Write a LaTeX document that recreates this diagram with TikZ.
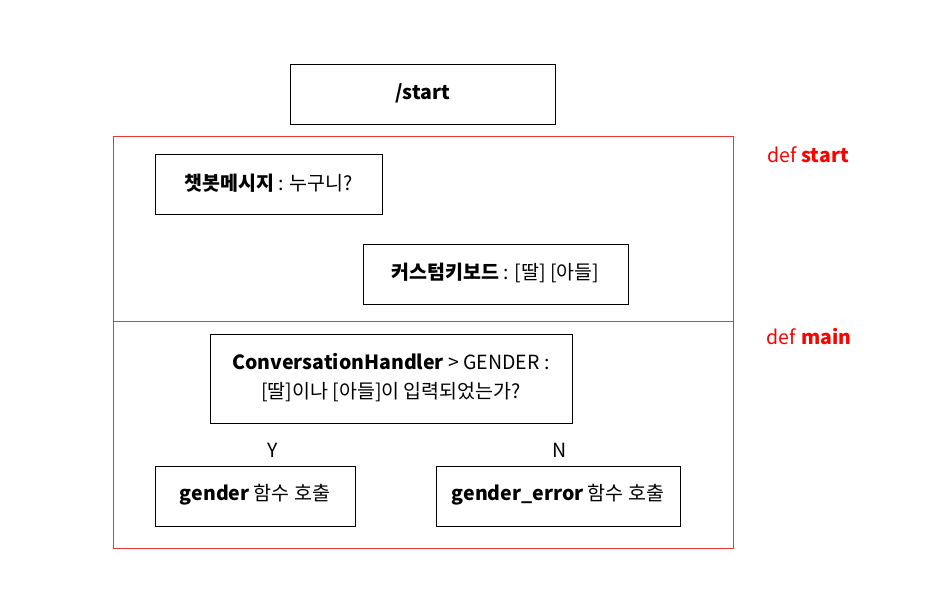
\documentclass[tikz,border=0pt]{standalone}
\usepackage{fontspec}
\setmainfont{Noto Sans CJK KR}
\definecolor{frame}{RGB}{235,55,55}
\definecolor{deftxt}{RGB}{255,0,0}
\begin{document}
\begin{tikzpicture}[x=1pt,y=-1pt,
  box/.style={draw=black,line width=0.8pt,inner sep=0pt},
  lbl/.style={font=\fontsize{19.5}{29}\selectfont,inner sep=0pt},
  deflbl/.style={font=\fontsize{19.5}{29}\selectfont,text=deftxt,inner sep=0pt}]
\useasboundingbox (0,0) rectangle (949,596);
% red frames
\draw[frame,line width=1pt] (113,137) rectangle (733,548);
\draw[frame,line width=1pt] (113,321) -- (733,321);
% boxes
\draw[box] (290,64) rectangle (555,124);
\node[lbl] (startcmd) at (422.5,93) {\textbf{/start}};
\draw[box] (155,154) rectangle (382,214);
\node[lbl] (msg) at (268.5,183) {\textbf{챗봇메시지} : 누구니?};
\draw[box] (363,244) rectangle (628,304);
\node[lbl] (kbd) at (495.5,273) {\textbf{커스텀키보드} : [딸] [아들]};
\draw[box] (210,334) rectangle (572,423);
\node[lbl,align=center] (conv) at (391,377.5) {\textbf{ConversationHandler} > GENDER :\\ \relax{}[딸]이나 [아들]이 입력되었는가?};
\draw[box] (155,466) rectangle (355,526);
\node[lbl] (gender) at (255,495) {\textbf{gender} 함수 호출};
\draw[box] (436,466) rectangle (680,526);
\node[lbl] (gerr) at (558,495) {\textbf{gender\_error} 함수 호출};
\node[lbl] (yes) at (273,450) {Y};
\node[lbl] (no) at (560,450) {N};
\node[deflbl] (defstart) at (808,155) {def \textbf{start}};
\node[deflbl] (defmain) at (809,337) {def \textbf{main}};
\end{tikzpicture}
\end{document}
